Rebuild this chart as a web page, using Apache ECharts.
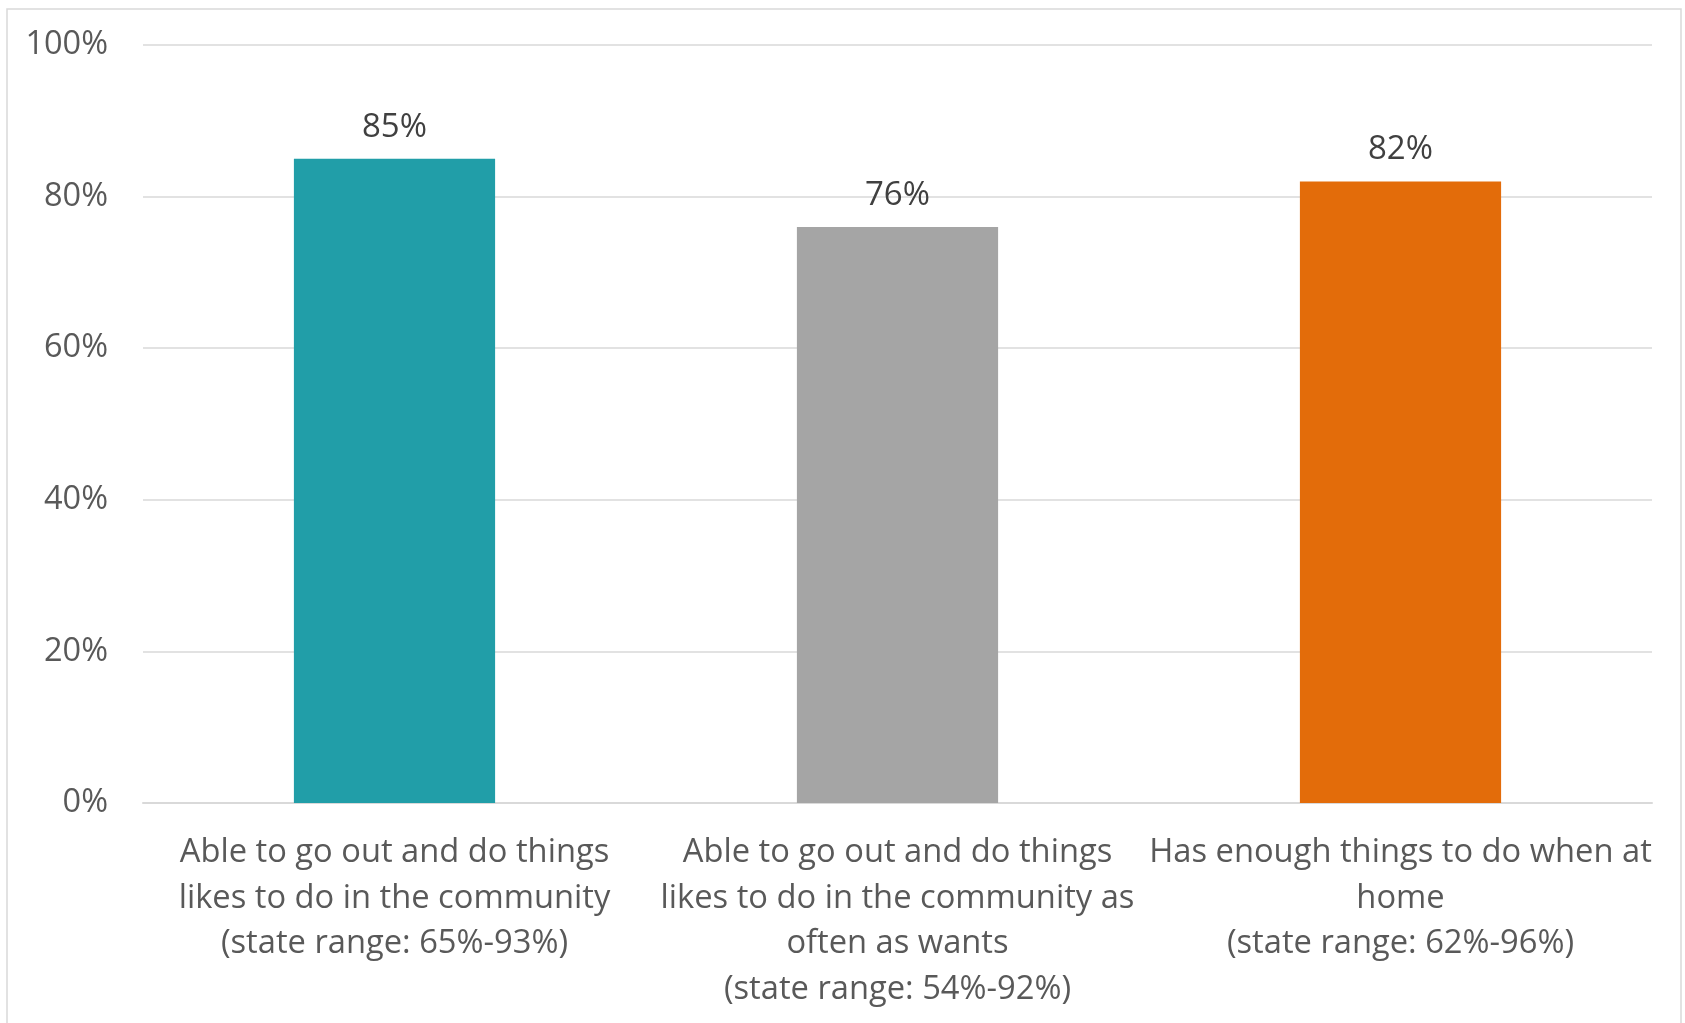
<!DOCTYPE html>
<html><head><meta charset="utf-8">
<script src="https://cdn.jsdelivr.net/npm/echarts@6/dist/echarts.min.js"></script>
<style>html,body{margin:0;padding:0;background:#fff}#c{width:1685px;height:1023px}</style>
</head><body><div id="c"></div>
<script>
const categories = [
  "Able to go out and do things\nlikes to do in the community\n(state range: 65%-93%)",
  "Able to go out and do things\nlikes to do in the community as\noften as wants\n(state range: 54%-92%)",
  "Has enough things to do when at\nhome\n(state range: 62%-96%)"
];
const values = [85, 76, 82];
const barColors = ["#219EA8", "#A5A5A5", "#E36C0A"];
const yTicks = [0, 20, 40, 60, 80, 100];

const font = "Open Sans";
const chart = echarts.init(document.getElementById('c'));
chart.setOption({
  animation: false,
  backgroundColor: '#fff',
  graphic: [{
    type: 'rect', shape: {x: 7, y: 9, width: 1674, height: 1030},
    style: {fill: 'none', stroke: '#D9D9D9', lineWidth: 1.5}, silent: true
  }],
  grid: {left: 143, right: 33, top: 45, bottom: 220, containLabel: false},
  xAxis: {
    type: 'category', data: categories,
    axisLine: {show: true, lineStyle: {color: '#D9D9D9', width: 2}},
    axisTick: {show: false},
    axisLabel: {
      interval: 0, margin: 27, color: '#595959',
      fontFamily: font, fontSize: 32.7, lineHeight: 45.5, align: 'center'
    }
  },
  yAxis: {
    type: 'value', min: 0, max: 100, interval: 20,
    axisLine: {show: false}, axisTick: {show: false},
    splitLine: {lineStyle: {color: '#D9D9D9', width: 1.5}},
    axisLabel: {
      margin: 35, color: '#595959', fontFamily: font, fontSize: 32.5,
      padding: [4, 0, 0, 0],
      formatter: v => yTicks.includes(v) ? v + '%' : ''
    }
  },
  series: [{
    type: 'bar', barWidth: '40%',
    data: values.map((v, i) => ({value: v, itemStyle: {color: barColors[i]}})),
    label: {
      show: true, position: 'top', distance: 15, color: '#404040',
      fontFamily: font, fontSize: 33, formatter: p => p.value + '%'
    }
  }]
});
</script></body></html>
